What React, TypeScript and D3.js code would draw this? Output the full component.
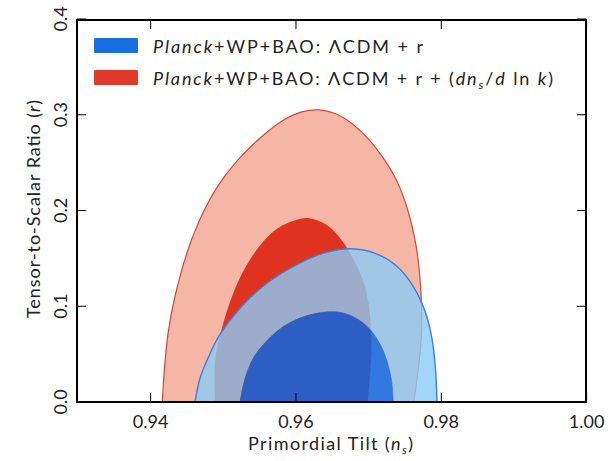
import React from "react";
import * as d3 from "d3";

// ---- data (n_s, r) contour points ----
const red95: [number, number][] = [
  [0.9416, 0.0], [0.9419, 0.035], [0.9424, 0.072], [0.9434, 0.112], [0.9451, 0.158],
  [0.9471, 0.196], [0.9492, 0.225], [0.9518, 0.251], [0.9551, 0.276], [0.9582, 0.294],
  [0.9608, 0.303], [0.9632, 0.305], [0.9663, 0.298], [0.9693, 0.28], [0.9718, 0.257],
  [0.9738, 0.232], [0.9754, 0.2], [0.9766, 0.16], [0.9772, 0.115], [0.9773, 0.075],
  [0.9769, 0.038], [0.9762, 0.0],
];
const red68: [number, number][] = [
  [0.9488, 0.0], [0.9489, 0.045], [0.9497, 0.074], [0.9509, 0.104], [0.9527, 0.136],
  [0.955, 0.163], [0.9574, 0.181], [0.96, 0.19], [0.9618, 0.192], [0.9642, 0.185],
  [0.9664, 0.168], [0.9681, 0.146], [0.9694, 0.123], [0.9701, 0.097], [0.9704, 0.06],
  [0.9702, 0.028], [0.9699, 0.0],
];
const blue95: [number, number][] = [
  [0.9461, 0.0], [0.9468, 0.025], [0.9479, 0.046], [0.9495, 0.07], [0.9523, 0.098],
  [0.956, 0.124], [0.96, 0.143], [0.964, 0.156], [0.9675, 0.16], [0.971, 0.155],
  [0.974, 0.141], [0.9762, 0.12], [0.9778, 0.094], [0.9787, 0.067], [0.9792, 0.035],
  [0.9794, 0.0],
];
const blue68: [number, number][] = [
  [0.9523, 0.0], [0.953, 0.025], [0.9542, 0.047], [0.956, 0.064], [0.9583, 0.079],
  [0.961, 0.089], [0.964, 0.094], [0.9665, 0.093], [0.9688, 0.085], [0.9708, 0.07],
  [0.9722, 0.05], [0.9731, 0.025], [0.9734, 0.0],
];

const xTicks = [0.94, 0.96, 0.98, 1.0];
const xTickLabels = ["0.94", "0.96", "0.98", "1.00"];
const yTicks = [0.0, 0.1, 0.2, 0.3, 0.4];
const yTickLabels = ["0.0", "0.1", "0.2", "0.3", "0.4"];
const xDomain = [0.93, 1.0];
const yDomain = [0.0, 0.4];

const W = 608;
const H = 461;
const left = 78;
const right = 586.6;
const top = 19;
const bottom = 402;

const FONT = "Lato, 'DejaVu Sans', sans-serif";

export default function App() {
  const x = d3.scaleLinear().domain(xDomain).range([left, right]);
  const y = d3.scaleLinear().domain(yDomain).range([bottom, top]);
  const line = d3
    .line<[number, number]>()
    .x((d) => x(d[0]))
    .y((d) => y(d[1]))
    .curve(d3.curveCatmullRom.alpha(0.5));
  const shape = (pts: [number, number][]) => {
    const first = pts[0];
    const last = pts[pts.length - 1];
    const ext: [number, number][] = [[first[0] - 0.0001, -0.01], ...pts, [last[0] + 0.0001, -0.01]];
    return (line(ext) || "") + "Z";
  };
  const open = (pts: [number, number][]) => line(pts) || "";

  const frameL = 77;
  const frameR = 586;
  const frameT = 20;
  const frameB = 402;

  return (
    <svg width={W} height={H} style={{ display: "block", position: "absolute", left: 0, top: 0 }}>
      <defs>
        <clipPath id="plot">
          <rect x={frameL} y={frameT} width={frameR - frameL} height={frameB - frameT} />
        </clipPath>
      </defs>
      <rect x={0} y={0} width={W} height={H} fill="#ffffff" />
      <g clipPath="url(#plot)">
        <path d={shape(red95)} fill="#f5b6a6" />
        <path d={open(red95)} fill="none" stroke="#d4473a" strokeWidth={1.2} />
        <path d={shape(red68)} fill="#e0331f" />
        <path
          d={shape(blue95) + shape(blue68)}
          fill="rgb(139,204,246)"
          fillOpacity={0.8}
          fillRule="evenodd"
        />
        <path d={shape(blue68)} fill="rgb(0,105,236)" fillOpacity={0.8} />
        <path d={open(blue68)} fill="none" stroke="#2d6ad2" strokeWidth={0.8} strokeOpacity={0.7} />
        <path d={open(blue95)} fill="none" stroke="#3a80dc" strokeWidth={1.4} />
      </g>

      {/* ticks */}
      {xTicks.map((t) => (
        <g key={"xt" + t}>
          <line x1={x(t)} x2={x(t)} y1={frameB} y2={frameB - 9} stroke="#000" strokeWidth={1} />
          <line x1={x(t)} x2={x(t)} y1={frameT} y2={frameT + 9} stroke="#000" strokeWidth={1} />
        </g>
      ))}
      {yTicks.map((t) => (
        <g key={"yt" + t}>
          <line x1={frameL} x2={frameL + 9} y1={y(t)} y2={y(t)} stroke="#000" strokeWidth={1} />
          <line x1={frameR} x2={frameR - 9} y1={y(t)} y2={y(t)} stroke="#000" strokeWidth={1} />
        </g>
      ))}
      <rect
        x={frameL}
        y={frameT}
        width={frameR - frameL}
        height={frameB - frameT}
        fill="none"
        stroke="#000"
        strokeWidth={2}
      />

      {/* tick labels */}
      {xTicks.map((t, i) => (
        <text
          key={"xl" + t}
          x={x(t)}
          y={428}
          textAnchor="middle"
          fontFamily={FONT}
          fontSize={18}
          fill="#222"
        >
          {xTickLabels[i]}
        </text>
      ))}
      {yTicks.map((t, i) => (
        <text
          key={"yl" + t}
          transform={`translate(67,${y(t)}) rotate(-90)`}
          textAnchor="middle"
          fontFamily={FONT}
          fontSize={18}
          fill="#222"
        >
          {yTickLabels[i]}
        </text>
      ))}

      {/* axis labels */}
      <text x={248} y={450} textLength={165} lengthAdjust="spacing" fontFamily={FONT} fontSize={18} fill="#222">
        Primordial Tilt (<tspan fontStyle="italic">n</tspan>
        <tspan fontSize={12} dy={4} fontStyle="italic">s</tspan>
        <tspan dy={-4}>)</tspan>
      </text>
      <text
        transform={`translate(40,318) rotate(-90)`}
        textLength={218}
        lengthAdjust="spacing"
        fontFamily={FONT}
        fontSize={18}
        fill="#222"
      >
        Tensor-to-Scalar Ratio (<tspan fontStyle="italic">r</tspan>)
      </text>

      {/* legend */}
      <rect x={94} y={38} width={44} height={15} rx={1.5} fill="#1a6fe0" />
      <rect x={94} y={70} width={44} height={15} rx={1.5} fill="#e0392a" />
      <text x={153} y={52.5} textLength={270} lengthAdjust="spacing" fontFamily={FONT} fontSize={18} fill="#222">
        <tspan fontStyle="italic">Planck</tspan>+WP+BAO: ΛCDM + r
      </text>
      <text x={153} y={84.5} textLength={400} lengthAdjust="spacing" fontFamily={FONT} fontSize={18} fill="#222">
        <tspan fontStyle="italic">Planck</tspan>+WP+BAO: ΛCDM + r + (
        <tspan fontStyle="italic">dn</tspan>
        <tspan fontSize={12} dy={4} fontStyle="italic">s</tspan>
        <tspan dy={-4}>/</tspan>
        <tspan fontStyle="italic">d</tspan> ln <tspan fontStyle="italic">k</tspan>)
      </text>
    </svg>
  );
}
